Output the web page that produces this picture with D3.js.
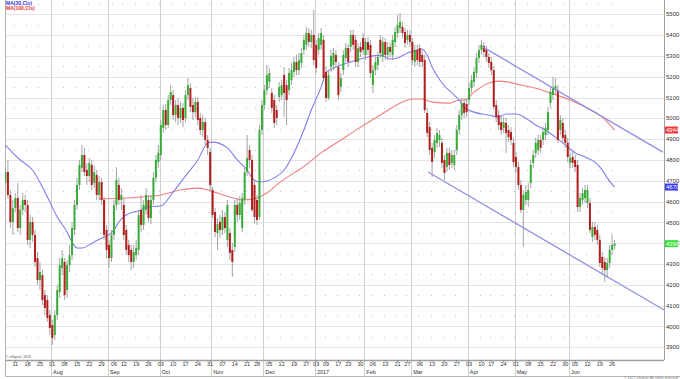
<!DOCTYPE html>
<html><head><meta charset="utf-8">
<script src="https://cdn.jsdelivr.net/npm/d3@7"></script>
<style>body{margin:0;background:#fff}svg{display:block}text{font-family:"Liberation Sans Narrow","Liberation Sans",Arial,sans-serif}</style>
</head><body><svg id="c" width="680" height="379"></svg>
<script>
// ---------- DATA ----------
const startDate = "2016-07-05", endDate = "2017-06-27";
const holidays = ["2016-09-05","2016-11-24","2016-12-26","2017-01-02","2017-01-16","2017-02-20","2017-04-14","2017-05-29"];
const opens = [
4690,4742,4632,4502,4569,4617,4473,4560,4608,4584, 4416,4502,4440,4329,4223,4247,4151,4127,4055,4007,
3959,4055,4166,4281,4310,4175,4295,4343,4464,4584, 4680,4762,4824,4752,4723,4776,4690,4728,4632,4694,
4608,4464,4392,4329,4440,4584,4680,4608,4584,4464, 4392,4368,4310,4343,4368,4560,4488,4560,4608,4521,
4608,4714,4790,4824,4954,5040,4968,5088,5112,5016, 5064,5002,5050,5002,5112,5146,5064,5030,5079,5002,
4944,4982,4896,4838,4656,4550,4449,4502,4464,4526, 4416,4449,4368,4382,4584,4536,4473,4608,4742,4848,
4800,4680,4608,4526,4944,5064,5136,5175,5122,5088, 5040,5103,5112,5208,5160,5136,5184,5223,5271,5232,
5266,5329,5353,5410,5367,5401,5353,5329,5353,5377, 5223,5098,5247,5256,5305,5247,5151,5232,5290,5338,
5343,5401,5377,5271,5343,5386,5305,5367,5353,5160, 5232,5256,5377,5295,5367,5305,5343,5305,5367,5410,
5434,5439,5415,5377,5401,5367,5271,5329,5338,5305, 5280,5026,4958,4858,4838,4882,4896,4882,4800,4766,
4834,4786,4776,4848,4944,5016,5074,5069,5088,5146, 5175,5218,5290,5329,5348,5329,5295,5271,5232,5064,
5016,4982,4954,4978,4944,4934,4882,4814,4766,4680, 4560,4608,4608,4690,4786,4834,4848,4896,4896,4920,
4944,5074,5112,5136,5136,4944,4978,4920,4882,4786, 4814,4800,4776,4574,4608,4617,4593,4593,4430,4478,
4464,4416,4334,4310,4271,4305,4368,4387];
const highs = [
4762,4800,4656,4608,4641,4690,4584,4641,4632,4608, 4536,4526,4464,4358,4310,4271,4175,4151,4079,4031,
4079,4199,4329,4368,4329,4319,4392,4502,4608,4714, 4800,4872,4858,4785,4810,4800,4771,4752,4723,4714,
4622,4488,4416,4464,4608,4766,4714,4665,4617,4488, 4416,4392,4392,4416,4560,4632,4608,4665,4632,4632,
4742,4824,4872,4992,5064,5069,5112,5160,5136,5088, 5098,5079,5074,5136,5194,5170,5098,5103,5103,5026,
5016,5002,4920,4858,4670,4569,4521,4536,4560,4550, 4608,4473,4401,4608,4617,4627,4641,4762,4920,4872,
4824,4704,4632,4968,5088,5160,5256,5242,5146,5112, 5064,5175,5184,5247,5184,5242,5266,5295,5305,5314,
5338,5401,5439,5434,5425,5521,5377,5410,5434,5401, 5247,5232,5329,5338,5329,5271,5218,5329,5362,5357,
5425,5425,5401,5362,5367,5410,5386,5391,5377,5256, 5295,5319,5401,5391,5386,5367,5362,5401,5439,5497,
5506,5463,5434,5425,5425,5386,5353,5353,5357,5329, 5305,5050,4982,4882,4920,4954,4944,4906,4824,4858,
4858,4848,4848,4968,5040,5098,5098,5093,5170,5208, 5247,5314,5353,5377,5367,5348,5314,5295,5252,5088,
5040,5006,5006,5002,4968,4958,4906,4838,4790,4704, 4656,4680,4690,4800,4848,4906,4920,4920,4958,4978,
5055,5151,5199,5194,5160,5016,5002,4944,4906,4834, 4838,4824,4800,4641,4665,4680,4680,4617,4502,4502,
4488,4440,4358,4334,4329,4392,4440,4416];
const lows = [
4675,4617,4473,4440,4550,4454,4440,4536,4550,4392, 4377,4406,4286,4199,4175,4103,4055,4022,3959,3911,
3935,4031,4137,4247,4127,4137,4262,4319,4440,4560, 4656,4742,4723,4680,4694,4656,4665,4608,4608,4584,
4416,4329,4281,4310,4416,4560,4584,4560,4416,4343, 4310,4271,4281,4319,4343,4454,4464,4536,4502,4492,
4584,4694,4762,4800,4930,4944,4954,5064,4992,4982, 4968,4978,4958,4982,5088,5030,4992,5006,4968,4920,
4910,4872,4824,4656,4521,4430,4368,4425,4440,4449, 4382,4319,4238,4358,4502,4512,4454,4584,4723,4762,
4550,4497,4488,4512,4920,5040,5112,5146,5026,4954, 4968,5079,5088,5006,4968,5112,5160,5199,5208,5208,
5242,5305,5329,5343,5338,5256,5218,5305,5329,5175, 5079,5088,5223,5232,5247,5088,5127,5208,5271,5247,
5319,5329,5247,5247,5295,5305,5280,5305,5194,5122, 5208,5232,5290,5271,5280,5280,5295,5280,5343,5386,
5410,5386,5338,5353,5343,5256,5247,5256,5247,5247, 5026,4910,4824,4718,4810,4858,4862,4762,4704,4742,
4752,4762,4752,4824,4920,4992,5002,5006,5064,5122, 5151,5194,5266,5305,5295,5271,5242,5208,5040,4982,
4944,4920,4930,4834,4886,4872,4766,4738,4656,4545, 4382,4584,4574,4665,4762,4810,4824,4834,4872,4896,
4920,5050,5088,5112,4882,4920,4882,4858,4790,4762, 4762,4742,4550,4550,4584,4593,4569,4449,4406,4416,
4392,4286,4247,4214,4233,4281,4343,4368];
const closes = [
4742,4632,4502,4569,4617,4473,4560,4608,4584,4416, 4502,4440,4310,4223,4262,4127,4089,4041,3993,3945,
4055,4175,4295,4329,4151,4295,4343,4473,4584,4680, 4776,4824,4742,4723,4785,4680,4742,4632,4694,4608,
4440,4368,4329,4440,4584,4704,4608,4632,4440,4368, 4343,4310,4358,4377,4536,4488,4584,4632,4521,4608,
4714,4800,4834,4968,5040,4968,5088,5127,5016,5064, 5002,5050,4992,5112,5160,5055,5030,5079,4992,4944,
4982,4896,4858,4680,4536,4454,4492,4464,4526,4473, 4584,4353,4310,4584,4536,4593,4617,4742,4810,4800,
4560,4526,4512,4944,5064,5136,5208,5218,5050,4978, 5002,5151,5160,5122,5088,5218,5232,5271,5232,5280,
5314,5377,5410,5367,5401,5280,5242,5386,5410,5194, 5098,5208,5300,5314,5271,5112,5194,5305,5338,5271,
5401,5353,5271,5338,5319,5329,5367,5329,5218,5232, 5271,5295,5314,5367,5305,5343,5319,5377,5415,5449,
5463,5410,5362,5401,5367,5280,5329,5280,5271,5271, 5040,4930,4848,4790,4896,4930,4920,4786,4738,4834,
4776,4824,4824,4944,5016,5074,5026,5030,5146,5184, 5223,5290,5329,5353,5319,5295,5266,5232,5055,5006,
4968,4944,4982,4930,4910,4896,4790,4766,4680,4560, 4632,4646,4656,4776,4824,4882,4896,4858,4934,4954,
5030,5127,5146,5156,4896,4992,4906,4882,4814,4810, 4786,4766,4574,4617,4641,4656,4656,4464,4478,4440,
4416,4305,4281,4271,4305,4368,4392,4398];
// moving averages: [bar index, value]
const ma30 = [[0,4872],[6,4800],[11,4752],[15,4670],[18,4598],[21,4526],[25,4454],[27,4406],[29,4377],[31,4377],[36,4406],[40,4430],[42,4440],[44,4464],[46,4502],[49,4536],[52,4550],[55,4560],[57,4574],[63,4579],[68,4646],[74,4738],[78,4800],[82,4882],[84,4886],[90,4858],[94,4800],[98,4752],[100,4714],[103,4694],[106,4699],[109,4714],[113,4752],[117,4834],[121,4944],[124,5040],[128,5150],[130,5218],[134,5247],[140,5271],[147,5295],[152,5304],[156,5285],[159,5290],[163,5314],[167,5328],[169,5333],[171,5304],[173,5247],[177,5170],[182,5112],[184,5088],[186,5054],[190,5030],[196,5016],[200,5006],[203,5021],[207,5021],[211,5001],[215,4968],[219,4944],[223,4910],[227,4872],[231,4834],[235,4814],[239,4790],[242,4752],[244,4714],[247,4670]];
const ma100 = [[38,4612],[48,4617],[55,4622],[63,4632],[71,4656],[78,4665],[82,4656],[86,4641],[91,4622],[96,4608],[102,4617],[106,4641],[111,4690],[117,4738],[119,4752],[128,4834],[136,4896],[144,4958],[152,5016],[160,5073],[165,5093],[169,5093],[173,5078],[180,5073],[184,5088],[186,5088],[190,5126],[196,5170],[200,5179],[204,5174],[209,5160],[215,5145],[220,5126],[226,5102],[231,5078],[236,5049],[242,5006],[247,4944]];
const trendUpper = [[193.7,5342],[266.6,4838]];
const trendLower = [[171.4,4742],[267.1,4079]];
const priceTicks = [3900,4000,4100,4200,4300,4400,4500,4600,4700,4800,4900,5000,5100,5200,5300,5400,5500];
const monthLabels = ["Aug","Sep","Oct","Nov","Dec","2017","Feb","Mar","Apr","May","Jun"];
const legendLabels = ["MA(30,Cls)","MA(100,Cls)"];

// ---------- LAYOUT ----------
const svg = d3.select("#c");
const L = 5, R = 664, T = 0, B = 360;
const hol = new Set(holidays);
const fmt = d3.timeFormat("%Y-%m-%d");
const dates = [];
for (let d = new Date(startDate+"T00:00:00"); d <= new Date(endDate+"T00:00:00"); d = d3.timeDay.offset(d,1)) {
  const wd = d.getDay();
  if (wd > 0 && wd < 6 && !hol.has(fmt(d))) dates.push(new Date(d));
}
const x = d3.scaleLinear().domain([0, dates.length-1]).range([5.44, 614.6]);
const y = d3.scaleLinear().domain([3900,5500]).range([347.3,14.3]);
const step = x(1)-x(0);

// weekly ticks: first trading day of each week (skip partial first week)
const weekTicks = [];
let lastWeek = null;
dates.forEach((d,i)=>{ const w = +d3.timeMonday.floor(d); if (w!==lastWeek){ lastWeek=w; weekTicks.push(i);} });
weekTicks.shift();
// month starts
const monthStarts = [];
dates.forEach((d,i)=>{ if (i>0 && d.getMonth()!==dates[i-1].getMonth()) monthStarts.push(i); });

svg.append("defs").append("clipPath").attr("id","pc").append("rect")
  .attr("x",L).attr("y",T).attr("width",R-L).attr("height",B-T);

// grid: hundreds
svg.append("g").selectAll("line").data(priceTicks).join("line")
  .attr("x1",L).attr("x2",R).attr("y1",d=>Math.round(y(d))+0.5).attr("y2",d=>Math.round(y(d))+0.5)
  .attr("stroke","#e4e4e4").attr("stroke-width",1);
// grid: fifties as dots at weekly positions
const halfLevels = priceTicks.slice(0,-1).map(p=>p+50).concat([5550]);
const dotG = svg.append("g").attr("fill","#c4c4c4");
halfLevels.forEach(p=>{
  weekTicks.forEach(i=>{
    dotG.append("rect").attr("x",Math.round(x(i)-1.5)).attr("y",Math.round(y(p))).attr("width",1).attr("height",1);
  });
});
// month lines
svg.append("g").selectAll("line").data(monthStarts).join("line")
  .attr("x1",d=>Math.round(x(d)-step/2)+0.5).attr("x2",d=>Math.round(x(d)-step/2)+0.5)
  .attr("y1",T).attr("y2",376).attr("stroke","#cfcfcf");

// frame
svg.append("line").attr("x1",L+0.5).attr("x2",L+0.5).attr("y1",T).attr("y2",377).attr("stroke","#b0b0b0");
svg.append("line").attr("x1",R+0.5).attr("x2",R+0.5).attr("y1",T).attr("y2",B).attr("stroke","#a0a0a0");
svg.append("line").attr("x1",L).attr("x2",R).attr("y1",B+0.5).attr("y2",B+0.5).attr("stroke","#a0a0a0").attr("stroke-width",1.4);
svg.append("line").attr("x1",L).attr("x2",680).attr("y1",376.5).attr("y2",376.5).attr("stroke","#b8b8b8");

const plot = svg.append("g").attr("clip-path","url(#pc)");

// MA lines
const lineGen = d3.line().x(d=>x(d[0])).y(d=>y(d[1])).curve(d3.curveMonotoneX);
plot.append("path").datum(ma100).attr("d",lineGen).attr("fill","none").attr("stroke","#ef7f7f").attr("stroke-width",1.1);
plot.append("path").datum(ma30).attr("d",lineGen).attr("fill","none").attr("stroke","#7f7fee").attr("stroke-width",1.1);

// candles
const cg = plot.append("g");
closes.forEach((c,i)=>{
  const o = opens[i], xi = x(i);
  cg.append("line").attr("x1",xi).attr("x2",xi).attr("y1",y(highs[i])).attr("y2",y(lows[i]))
    .attr("stroke","#9a9a9a").attr("stroke-width",0.9);
  const top = y(Math.max(o,c)), bot = y(Math.min(o,c));
  cg.append("rect").attr("x",xi-1).attr("width",2).attr("y",top).attr("height",Math.max(1,bot-top))
    .attr("fill", c>=o ? "#37ad37" : "#b21e1e");
});

// trend lines
const tl = d3.line().x(d=>x(d[0])).y(d=>y(d[1]));
[trendUpper,trendLower].forEach(t=>{
  plot.append("path").datum(t).attr("d",tl).attr("fill","none").attr("stroke","#8f8fe3").attr("stroke-width",1.3);
});

// right axis labels
svg.append("g").selectAll("text").data(priceTicks).join("text")
  .attr("x",666).attr("y",d=>y(d)).attr("dy","0.35em").attr("font-size",6).attr("fill","#333")
  .text(d=>d);

// value boxes
function box(v,bg){
  const g = svg.append("g");
  g.append("rect").attr("x",665).attr("y",y(v)-3.5).attr("width",13).attr("height",7).attr("fill",bg);
  g.append("text").attr("x",666).attr("y",y(v)).attr("dy","0.35em").attr("font-size",6).attr("fill","#fff").text(Math.round(v));
}
box(ma100[ma100.length-1][1],"#f23a3a");
box(ma30[ma30.length-1][1],"#3a3af2");
box(closes[closes.length-1],"#3ae03a");

// bottom axis: weekly ticks & labels
const dayFmt = d3.timeFormat("%d");
svg.append("g").selectAll("line").data(weekTicks).join("line")
  .attr("x1",d=>x(d)).attr("x2",d=>x(d)).attr("y1",B).attr("y2",B+2).attr("stroke","#888");
svg.append("g").selectAll("text").data(weekTicks).join("text")
  .attr("x",d=>x(d)).attr("y",365.5).attr("text-anchor","middle").attr("font-size",5.5).attr("fill","#333")
  .text(d=>dayFmt(dates[d]));
svg.append("g").selectAll("text").data(monthStarts).join("text")
  .attr("x",d=>x(d)-step/2+2).attr("y",374).attr("font-size",5.5).attr("fill","#333")
  .text((d,k)=>monthLabels[k]);

// legend
svg.append("text").attr("x",6).attr("y",5).attr("font-size",5).attr("font-weight","bold").attr("fill","#3636e0").text(legendLabels[0]);
svg.append("text").attr("x",6).attr("y",10).attr("font-size",5).attr("font-weight","bold").attr("fill","#e03636").text(legendLabels[1]);

// small credits
svg.append("text").attr("x",6).attr("y",357.5).attr("font-size",3.5).attr("fill","#555").text("© eSignal, 2016");
svg.append("text").attr("x",679).attr("y",379).attr("text-anchor","end").attr("font-size",3.5).attr("fill","#777").text("© 2017 eSignal. All rights reserved.");
</script></body></html>
